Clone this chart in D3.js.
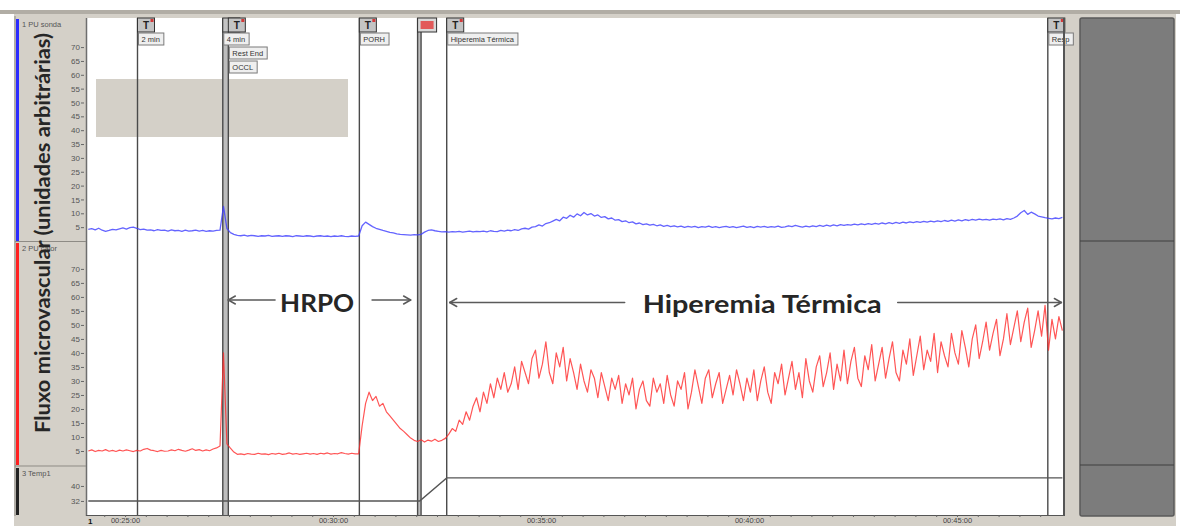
<!DOCTYPE html>
<html>
<head>
<meta charset="utf-8">
<script src="https://cdn.jsdelivr.net/npm/d3@7"></script>
<style>
  html, body { margin: 0; padding: 0; background: #fff; }
  svg { display: block; }
</style>
</head>
<body>
<svg id="chart" width="1180" height="526"></svg>
<script>
// ---- Recording data --------------------------------------------------------
// Traces are sampled every 5 s, starting at 00:24:07 (seconds of recording)
const sampleStart = 1447;
const sampleStep = 5;

// Channel 1: PU, probe without heating
const fluxoSonda = [
  4.2, 4.5, 4.0, 4.6, 3.9, 3.5, 3.8, 4.2, 4.0, 4.4,
  4.7, 4.3, 4.8, 5.0, 4.6, 4.1, 4.3, 3.9, 4.0, 3.7,
  4.1, 3.8, 3.9, 3.6, 4.0, 3.7, 3.8, 3.5, 3.9, 3.6,
  3.7, 3.9, 3.6, 3.8, 3.5, 3.7, 3.6, 3.8, 3.9, 12.5,
  4.5, 3.0, 2.4, 2.0, 1.9, 2.1, 1.8, 2.0, 1.9, 1.7,
  1.9, 1.8, 2.0, 1.7, 1.8, 1.9, 1.7, 1.9, 1.8, 1.6,
  1.9, 1.8, 1.7, 1.9, 1.8, 1.6, 1.8, 1.9, 1.7, 1.8,
  1.6, 1.8, 1.7, 1.9, 1.7, 1.6, 1.8, 1.7, 1.8, 5.5,
  6.8, 6.0, 5.2, 4.6, 4.2, 3.8, 3.5, 3.1, 2.9, 2.6,
  2.4, 2.3, 2.2, 2.1, 2.3, 2.2, 2.4, 3.2, 3.8, 4.0,
  3.7, 3.5, 3.3, 3.4, 3.2, 3.4, 3.3, 3.5, 3.2, 3.4,
  3.6, 3.3, 3.5, 3.4, 3.6, 3.3, 3.7, 3.5, 3.4, 3.8,
  3.6, 3.9, 3.7, 4.1, 3.8, 4.4, 4.6, 4.3, 5.0, 5.2,
  5.8, 5.4, 6.3, 6.6, 7.2, 7.8, 7.3, 8.6, 8.2, 9.3,
  8.6, 9.8, 9.1, 10.3, 9.4, 9.9, 9.0, 9.4, 8.5, 8.8,
  8.0, 8.3, 7.5, 7.7, 7.0, 7.3, 6.6, 6.9, 6.2, 6.5,
  5.9, 6.2, 5.7, 6.0, 5.5, 5.8, 5.3, 5.6, 5.2, 5.5,
  5.1, 5.4, 4.9, 5.3, 5.0, 5.3, 4.8, 5.2, 5.0, 5.4,
  4.9, 5.2, 4.8, 5.1, 5.3, 4.9, 5.2, 4.8, 5.1, 5.4,
  4.9, 5.2, 4.8, 5.3, 5.0, 5.3, 4.9, 5.2, 5.0, 5.4,
  4.9, 5.1, 5.5, 5.2, 5.6, 5.3, 5.0, 5.4, 5.1, 5.5,
  5.2, 5.6, 5.3, 5.7, 5.4, 5.8, 5.5, 5.9, 5.6, 5.9,
  5.7, 6.1, 5.8, 6.2, 5.9, 6.3, 6.0, 6.4, 6.1, 6.5,
  6.2, 6.6, 6.3, 6.7, 6.4, 6.8, 6.5, 6.9, 6.6, 7.0,
  6.7, 7.1, 6.8, 7.2, 6.9, 7.3, 7.0, 7.4, 7.1, 7.5,
  7.2, 7.6, 7.3, 7.7, 7.4, 7.8, 7.5, 7.9, 7.6, 7.8,
  7.5, 7.9, 7.7, 8.0, 7.6, 8.1, 7.8, 8.3, 9.0, 10.2,
  11.0, 9.6, 10.4, 9.8, 9.0, 8.7, 8.4, 8.2, 8.0, 8.3,
  8.1, 8.5
];

// Channel 2: PU, heated probe
const fluxoCalor = [
  5.0, 5.4, 4.8, 5.2, 5.0, 5.5, 4.9, 5.2, 4.8, 5.3,
  5.0, 5.4, 5.1, 4.8, 5.2, 5.0, 5.6, 5.9, 5.3, 5.1,
  4.8, 5.2, 4.9, 5.0, 5.4, 5.1, 5.6, 5.2, 4.9, 5.3,
  5.8, 5.2, 5.5, 5.0, 5.4, 5.1, 5.7, 6.1, 6.8, 40,
  7.5, 6.0, 4.6, 3.8, 4.0, 3.7, 4.1, 3.9, 3.8, 4.2,
  3.9, 4.0, 3.7, 4.1, 3.9, 4.2, 3.8, 4.0, 4.3, 3.9,
  4.1, 3.8, 4.0, 4.2, 3.9, 4.1, 3.8, 4.2, 4.0, 4.3,
  3.9, 4.1, 4.0, 4.4, 4.1, 3.9, 4.2, 4.0, 4.0, 14,
  22, 26, 23, 24.5, 21, 22, 19, 17.5, 16, 14.5,
  13, 12, 10.8, 9.6, 8.8, 8.4, 9.0, 8.2, 8.9, 8.5,
  9.2, 8.4, 8.8, 9.5, 11, 13, 12, 16, 14.5, 19,
  16, 21, 24, 19, 26, 22, 29, 24, 31, 27,
  33, 26, 29, 35, 27, 37, 33, 29, 38, 41,
  31, 36, 44, 33, 29, 40, 35, 42, 30, 38,
  33, 27, 36, 30, 26, 34, 31, 24, 33, 28,
  23, 31, 27, 32, 22, 29, 25, 31, 20, 27,
  30, 23, 21, 31, 26, 29, 22, 32, 25, 21,
  30, 27, 33, 20, 26, 34, 28, 22, 31, 34,
  24, 29, 33, 22, 27, 32, 25, 34, 29, 23,
  31, 26, 34, 23, 30, 35, 26, 22, 33, 29,
  36, 25, 31, 37, 27, 33, 24, 38, 30, 26,
  35, 39, 28, 33, 40, 27, 36, 30, 41, 29,
  37, 42, 31, 28, 39, 34, 43, 30, 36, 42,
  31, 38, 44, 33, 30, 41, 36, 45, 32, 39,
  46, 34, 41, 37, 47, 33, 44, 39, 35, 47,
  40, 36, 48, 42, 35, 45, 50, 38, 44, 51,
  41, 47, 52, 39, 45, 54, 43, 49, 55, 44,
  51, 56, 42, 48, 55, 46, 57, 41, 52, 45,
  53, 48
];

// Channel 3: skin temperature (°C), breakpoints of the heater record
const tempTimes  = [1447, 1925, 1964, 2852];
const tempValues = [32.0, 32.0, 44.3, 44.3];

// Event markers
const eventTimes    = [1518, 1641, 1649, 1838, 1922, 1927, 1964, 2831];
const eventIcons    = ["note", "note", "note", "note", "alert", "none", "note", "note"];
const eventLabels   = [["2 min"], ["4 min"], ["Rest End", "OCCL"], ["PORH"], [], [], ["Hiperemia Térmica"], ["Resp"]];
const eventLabelRow = [0, 0, 1, 0, 0, 0, 0, 0];
const eventBands    = [[1641, 1649], [1922, 1927]];

// Phase annotations (arrow tips at event times)
const phaseLabels = ["HRPO", "Hiperemia Térmica"];
const phaseFrom   = [1649, 1964];
const phaseTo     = [1922, 2852];
const phaseCenter = [1777, 2419];

// Axis ticks
const timeTicks      = [1500, 1800, 2100, 2400, 2700];
const timeTickLabels = ["00:25:00", "00:30:00", "00:35:00", "00:40:00", "00:45:00"];
const fluxTicks      = [70, 65, 60, 55, 50, 45, 40, 35, 30, 25, 20, 15, 10, 5];
const tempTicks      = [40, 32];
const channelNames   = ["1 PU sonda", "2 PU calor", "3 Temp1"];
const channelColors  = ["#2b2bff", "#ff2020", "#222222"];

// ---- Layout ----------------------------------------------------------------
const plot = { left: 87, right: 1063, top: 18, bottom: 515 };
const ch1 = { top: 18, bottom: 241 };
const ch2 = { top: 242, bottom: 465 };
const ch3 = { top: 467, bottom: 515 };
const smallFont = "'Liberation Sans', Arial, sans-serif";
const bigFont = "Lato, 'Open Sans', sans-serif";
const phaseLayout = [
  { width: 74, y: 300, base: 311.5, gapL: 5, gapR: 18, insetL: 0, insetR: 7 },
  { width: 239, y: 302.5, base: 313, gapL: 18, gapR: 16, insetL: 3, insetR: 1 }
];

const svg = d3.select("#chart");

const x = d3.scaleLinear().domain([1446.6, 2852.9]).range([88, 1063]);
const y1 = d3.scaleLinear().domain([0, 80.5]).range([ch1.bottom, ch1.top]);
const y2 = d3.scaleLinear().domain([0, 79.6]).range([ch2.bottom, ch2.top]);
const y3 = d3.scaleLinear().domain([24.5, 50.1]).range([ch3.bottom, ch3.top]);

const sampleTime = i => sampleStart + i * sampleStep;

// ---- Window background -----------------------------------------------------
svg.append("rect").attr("width", 1180).attr("height", 526).attr("fill", "#ffffff");
svg.append("rect").attr("x", 14).attr("y", 10).attr("width", 1162).attr("height", 516).attr("fill", "#d4d0c8");
svg.append("rect").attr("x", 0).attr("y", 10).attr("width", 1180).attr("height", 4).attr("fill", "#b1ada5");

// plot area
svg.append("rect")
  .attr("x", plot.left).attr("y", plot.top)
  .attr("width", plot.right - plot.left).attr("height", plot.bottom - plot.top)
  .attr("fill", "#ffffff");

// grey block over the upper channel
svg.append("rect").attr("x", 96).attr("y", 79).attr("width", 252).attr("height", 58).attr("fill", "#d4d0c8");

// right side panel
const rp = svg.append("g");
rp.append("rect").attr("x", 1080).attr("y", 18).attr("width", 94).attr("height", 498)
  .attr("rx", 2).attr("fill", "#7c7c7c").attr("stroke", "#5a5a5a").attr("stroke-width", 1.5);
[ch1.bottom, ch2.bottom].forEach(yy => {
  rp.append("line").attr("x1", 1080).attr("x2", 1174).attr("y1", yy).attr("y2", yy)
    .attr("stroke", "#3f3f3f").attr("stroke-width", 1);
});

// ---- Event markers ---------------------------------------------------------
const ev = svg.append("g");
ev.selectAll("rect.band").data(eventBands).join("rect")
  .attr("class", "band")
  .attr("x", d => x(d[0])).attr("width", d => x(d[1]) - x(d[0]))
  .attr("y", plot.top).attr("height", plot.bottom - plot.top)
  .attr("fill", "#bdbdbd");
ev.selectAll("line.ev").data(eventTimes).join("line")
  .attr("class", "ev")
  .attr("x1", d => x(d)).attr("x2", d => x(d))
  .attr("y1", plot.top).attr("y2", plot.bottom)
  .attr("stroke", "#4a4a4a").attr("stroke-width", 1.4);

// ---- Traces ----------------------------------------------------------------
const line1 = d3.line().x((d, i) => x(sampleTime(i))).y(d => y1(d));
const line2 = d3.line().x((d, i) => x(sampleTime(i))).y(d => y2(d));
svg.append("path").datum(fluxoSonda).attr("d", line1)
  .attr("fill", "none").attr("stroke", "#3d3dff").attr("stroke-width", 1.3)
  .attr("stroke-opacity", 0.8).attr("stroke-linejoin", "round");
svg.append("path").datum(fluxoCalor).attr("d", line2)
  .attr("fill", "none").attr("stroke", "#ff2a2a").attr("stroke-width", 1.2)
  .attr("stroke-opacity", 0.8).attr("stroke-linejoin", "round");
const tempLine = d3.line().x(d => x(d[0])).y(d => y3(d[1]));
svg.append("path").datum(d3.zip(tempTimes, tempValues)).attr("d", tempLine)
  .attr("fill", "none").attr("stroke", "#555555").attr("stroke-width", 1.4);

// ---- Event icons and labels ------------------------------------------------
eventTimes.forEach((t, k) => {
  const ex = x(t);
  const kind = eventIcons[k];
  if (kind === "note") {
    ev.append("rect").attr("x", ex).attr("y", 18).attr("width", 17).attr("height", 14)
      .attr("fill", "#c4c4c4").attr("stroke", "#333").attr("stroke-width", 1);
    ev.append("text").attr("x", ex + 8.5).attr("y", 29).attr("text-anchor", "middle")
      .attr("font-family", smallFont).attr("font-size", 10).attr("font-weight", 700)
      .attr("fill", "#222").text("T");
    ev.append("rect").attr("x", ex + 13).attr("y", 19).attr("width", 3).attr("height", 3)
      .attr("fill", "#d23a3a");
  } else if (kind === "alert") {
    ev.append("rect").attr("x", ex).attr("y", 18).attr("width", 19).attr("height", 14)
      .attr("fill", "#d9d9d9").attr("stroke", "#333").attr("stroke-width", 1);
    ev.append("rect").attr("x", ex + 3).attr("y", 21).attr("width", 13).attr("height", 8)
      .attr("fill", "#e25a5a");
  }
  eventLabels[k].forEach((lab, r) => {
    const row = eventLabelRow[k] + r;
    const ly = 33 + row * 14;
    const g = ev.append("g");
    const txt = g.append("text").attr("x", ex + 4).attr("y", ly + 9)
      .attr("font-family", smallFont).attr("font-size", 7.5).attr("fill", "#333").text(lab);
    const w = txt.node().getComputedTextLength();
    g.insert("rect", "text").attr("x", ex + 1).attr("y", ly).attr("width", w + 7).attr("height", 12)
      .attr("fill", "#efefef").attr("stroke", "#7a7a7a").attr("stroke-width", 1);
  });
});

// ---- Phase annotations -----------------------------------------------------
const ann = svg.append("g");
phaseLabels.forEach((lab, k) => {
  const L = phaseLayout[k];
  const cx = x(phaseCenter[k]);
  const tL = cx - L.width / 2, tR = cx + L.width / 2;
  const tipL = x(phaseFrom[k]) + L.insetL, tipR = x(phaseTo[k]) - L.insetR;
  ann.append("text").attr("x", tL).attr("y", L.base)
    .attr("font-family", bigFont).attr("font-weight", 700).attr("font-size", 25)
    .attr("fill", "#262626").attr("textLength", L.width).attr("lengthAdjust", "spacingAndGlyphs")
    .text(lab);
  const seg = (x1, y1_, x2, y2_) => ann.append("line")
    .attr("x1", x1).attr("y1", y1_).attr("x2", x2).attr("y2", y2_)
    .attr("stroke", "#5a5a5a").attr("stroke-width", 1.5).attr("stroke-linecap", "round");
  seg(tipL, L.y, tL - L.gapL, L.y);
  seg(tipL, L.y, tipL + 7, L.y - 4);
  seg(tipL, L.y, tipL + 7, L.y + 4);
  seg(tR + L.gapR, L.y, tipR, L.y);
  seg(tipR, L.y, tipR - 7, L.y - 4);
  seg(tipR, L.y, tipR - 7, L.y + 4);
});

// ---- Plot borders ----------------------------------------------------------
svg.append("line").attr("x1", 86.5).attr("x2", 86.5).attr("y1", plot.top).attr("y2", plot.bottom + 1)
  .attr("stroke", "#6e6e6e").attr("stroke-width", 1.5);
svg.append("line").attr("x1", 1064).attr("x2", 1064).attr("y1", plot.top).attr("y2", plot.bottom + 1)
  .attr("stroke", "#555").attr("stroke-width", 2);

// ---- Left channel panel ----------------------------------------------------
const lp = svg.append("g");
[[ch1.top, ch1.bottom], [ch2.top, ch2.bottom], [ch3.top, ch3.bottom]].forEach((c, k) => {
  lp.append("rect").attr("x", 16).attr("y", c[0] + 1).attr("width", 3).attr("height", c[1] - c[0] - 1)
    .attr("fill", channelColors[k]);
  lp.append("text").attr("x", 22).attr("y", c[0] + 9)
    .attr("font-family", smallFont).attr("font-size", 7.5).attr("fill", "#555").text(channelNames[k]);
});
[241.5, 466].forEach(yy => {
  lp.append("line").attr("x1", 15).attr("x2", 86).attr("y1", yy).attr("y2", yy)
    .attr("stroke", "#8e8b85").attr("stroke-width", 1);
});
lp.append("line").attr("x1", 15).attr("x2", 15).attr("y1", 16).attr("y2", 516)
  .attr("stroke", "#8e8b85").attr("stroke-width", 1);

const styleAxis = g => {
  g.select(".domain").remove();
  g.selectAll("text").attr("font-family", smallFont).attr("font-size", 8).attr("fill", "#555");
  g.selectAll("line").attr("stroke", "#666");
};
svg.append("g").attr("transform", "translate(84,0)")
  .call(d3.axisLeft(y1).tickValues(fluxTicks).tickSize(3).tickPadding(1).tickFormat(d3.format("d")))
  .call(styleAxis);
svg.append("g").attr("transform", "translate(84,0)")
  .call(d3.axisLeft(y2).tickValues(fluxTicks).tickSize(3).tickPadding(1).tickFormat(d3.format("d")))
  .call(styleAxis);
svg.append("g").attr("transform", "translate(84,0)")
  .call(d3.axisLeft(y3).tickValues(tempTicks).tickSize(3).tickPadding(1).tickFormat(d3.format("d")))
  .call(styleAxis);

// y-axis title
svg.append("text")
  .attr("transform", "translate(50,233) rotate(-90)")
  .attr("text-anchor", "middle")
  .attr("font-family", bigFont).attr("font-weight", 700).attr("font-size", 21)
  .attr("fill", "#262626")
  .attr("textLength", 400).attr("lengthAdjust", "spacingAndGlyphs")
  .text("Fluxo microvascular (unidades arbitrárias)");

// ---- Time axis -------------------------------------------------------------
svg.append("line").attr("x1", 86).attr("x2", 1065).attr("y1", plot.bottom + 0.5).attr("y2", plot.bottom + 0.5)
  .attr("stroke", "#555").attr("stroke-width", 1.2);
svg.append("g").attr("transform", `translate(0,${plot.bottom})`)
  .call(d3.axisBottom(x).tickValues(d3.range(1470, 2850, 30)).tickSize(2).tickFormat(""))
  .call(styleAxis);
svg.append("g").attr("transform", `translate(0,${plot.bottom})`)
  .call(d3.axisBottom(x).tickValues(timeTicks).tickSize(2).tickPadding(1)
    .tickFormat((d, i) => timeTickLabels[i]))
  .call(styleAxis)
  .selectAll("text").attr("fill", "#444").attr("font-size", 7.5);
svg.append("text").attr("x", 88).attr("y", 524)
  .attr("font-family", smallFont).attr("font-size", 8).attr("font-weight", 700)
  .attr("fill", "#111").text("1");
</script>
</body>
</html>
